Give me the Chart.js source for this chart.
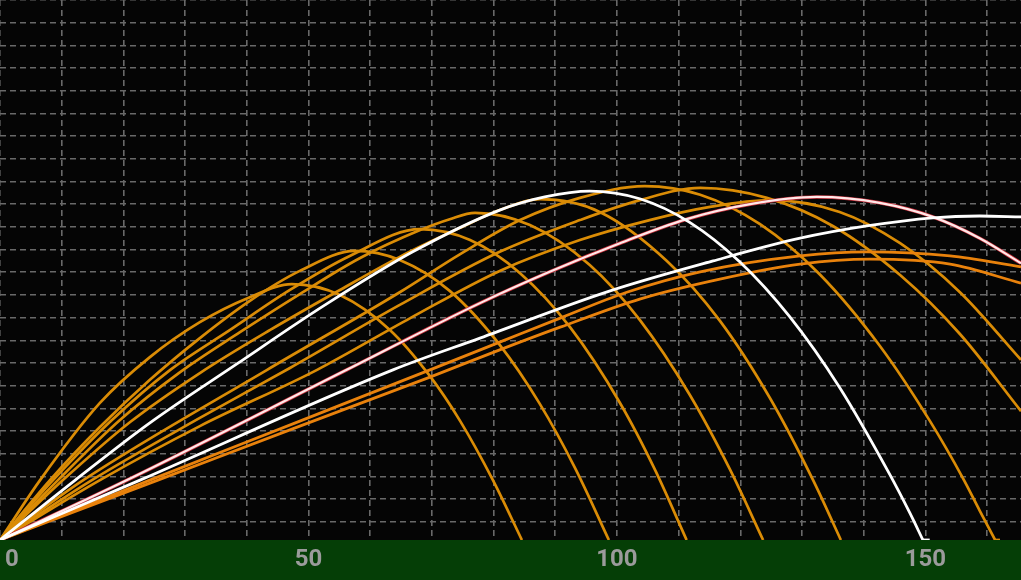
<!DOCTYPE html>
<html>
<head>
<meta charset="utf-8">
<script src="https://cdn.jsdelivr.net/npm/chart.js@4.4.1/dist/chart.umd.min.js"></script>
<style>
  html, body { margin: 0; padding: 0; background: #050505; }
  #wrap { width: 1021px; height: 580px; }
</style>
</head>
<body>
<div id="wrap"><canvas id="trajectoryChart"></canvas></div>
<script>
// Shot trajectories: carry in yards (x), height in feet (y)

const xTickLabels = [0, 50, 100, 150];
const heightGridFt = [4, 9, 14, 19, 24, 29, 34, 39, 44, 49, 54, 59, 64, 69, 74, 79, 84, 89, 94, 99, 104, 109, 114, 119];

const shotAX = [0, 6.5, 16.2, 24.3, 32.4, 40.5, 47.3, 55.1, 63.2, 69.7, 74.6, 79.9, 84.6];
const shotAY = [0, 13.2, 30.2, 40.3, 48.0, 53.5, 56.4, 54.0, 46.3, 36.1, 26.2, 13.2, 0];

const shotBX = [0, 8.1, 16.2, 24.3, 32.4, 40.5, 48.6, 57.5, 64.8, 72.9, 81.0, 87.5, 93.2, 98.7];
const shotBY = [0, 13.2, 24.9, 35.3, 44.5, 52.7, 59.3, 63.7, 61.7, 54.9, 43.0, 30.0, 15.9, 0];

const shotCX = [0, 8.6, 17.8, 27.6, 37.3, 47.0, 56.7, 68.1, 76.2, 84.3, 92.4, 100.5, 106.2, 111.3];
const shotCY = [0, 13.2, 26.0, 37.5, 46.3, 55.1, 62.6, 68.5, 66.1, 58.8, 46.9, 30.2, 15.4, 0];

const shotDX = [0, 9.4, 19.4, 29.2, 38.9, 48.6, 58.3, 68.1, 72.9, 77.0, 85.9, 95.6, 103.7, 111.8, 118.3, 123.7];
const shotDY = [0, 13.2, 26.4, 37.0, 45.8, 54.2, 62.1, 68.3, 70.7, 72.1, 69.4, 60.6, 48.5, 32.0, 15.6, 0];

const shotEX = [0, 10.2, 21.1, 32.4, 43.8, 55.1, 64.8, 74.6, 81.0, 87.5, 97.2, 108.1, 116.7, 124.8, 131.8, 136.3];
const shotEY = [0, 13.2, 26.0, 36.8, 46.3, 55.1, 62.4, 68.8, 72.7, 75.1, 72.3, 61.5, 48.3, 31.3, 13.2, 0];

const shotFX = [0, 12.2, 24.3, 38.4, 52.7, 66.9, 81.0, 88.3, 95.6, 103.7, 111.8, 119.9, 128.0, 136.1, 144.2, 147.5, 149.6];
const shotFY = [0, 13.2, 25.8, 38.8, 51.8, 63.5, 72.7, 75.6, 76.9, 75.2, 70.0, 61.3, 49.2, 33.6, 14.5, 5.9, 0];
const rollFX = [149.6, 150.7];
const rollFY = [0, 0];

const shotGX = [0, 13.5, 43.3, 64.8, 74.6, 84.3, 94.0, 104.5, 113.5, 123.2, 132.9, 142.6, 150.7, 156.1, 158.8, 161.3];
const shotGY = [0, 13.2, 37.5, 54.6, 63.0, 70.5, 75.4, 78.0, 76.1, 69.6, 58.5, 42.8, 26.3, 13.6, 6.5, 0];
const rollGX = [161.3, 162.1];
const rollGY = [0, 0];

const shotHX = [0, 14.9, 32.4, 47.0, 64.8, 81.0, 94.0, 103.7, 113.5, 124.3, 135.0, 145.9, 155.6, 165.5];
const shotHY = [0, 13.2, 26.9, 37.9, 51.8, 63.5, 70.5, 74.9, 77.6, 75.4, 69.2, 58.4, 45.4, 28.4];

const shotIX = [0, 16.2, 32.4, 51.4, 66.5, 81.0, 94.0, 105.3, 115.1, 124.8, 136.1, 145.9, 155.6, 165.5];
const shotIY = [0, 13.2, 25.1, 37.5, 48.9, 59.3, 66.1, 70.5, 73.4, 74.9, 72.3, 65.4, 54.6, 39.7];

const shotPX = [0, 20.6, 56.2, 77.8, 89.1, 100.5, 111.3, 121.6, 132.4, 142.6, 151.2, 158.8, 165.5];
const shotPY = [0, 13.2, 37.5, 52.2, 59.1, 65.4, 70.7, 74.0, 75.6, 74.3, 71.2, 66.5, 61.0];

const shotWX = [0, 22.7, 63.7, 77.8, 98.9, 115.6, 129.7, 140.5, 151.2, 158.8, 165.5];
const shotWY = [0, 13.2, 37.5, 44.5, 54.9, 61.5, 66.5, 69.2, 71.0, 71.4, 71.2];

const shotO1X = [0, 24.3, 48.6, 69.7, 81.0, 90.8, 101.6, 113.5, 129.7, 140.5, 154.0, 165.5];
const shotO1Y = [0, 13.2, 26.2, 37.5, 43.6, 48.9, 54.6, 59.1, 62.6, 63.5, 62.6, 60.2];

const shotO2X = [0, 25.6, 48.6, 69.7, 81.0, 90.8, 103.7, 116.7, 129.7, 141.0, 154.0, 165.5];
const shotO2Y = [0, 13.2, 25.1, 35.9, 41.9, 46.9, 53.1, 57.5, 60.8, 61.9, 60.8, 56.6];

const orange = '#da8c06';
const brightOrange = '#e9820c';

function points(xs, ys) {
  return xs.map((x, i) => ({ x: x, y: ys[i] }));
}

function shot(xs, ys, color, width) {
  return {
    data: points(xs, ys),
    borderColor: color,
    borderWidth: width,
    pointRadius: 0,
    fill: false,
    cubicInterpolationMode: 'monotone'
  };
}

// first dataset is drawn on top
const datasets = [
  shot(shotFX, shotFY, '#ffffff', 2.8),
  shot(rollFX, rollFY, '#ffffff', 2.8),
  shot(shotWX, shotWY, '#ffffff', 2.8),
  shot(shotPX, shotPY, '#ffe8e8', 2.2),
  shot(shotPX, shotPY, '#c8303c', 3.6),
  shot(shotO1X, shotO1Y, brightOrange, 2.8),
  shot(shotO2X, shotO2Y, brightOrange, 2.8),
  shot(shotAX, shotAY, orange, 2.7),
  shot(shotBX, shotBY, orange, 2.7),
  shot(shotCX, shotCY, orange, 2.7),
  shot(shotDX, shotDY, orange, 2.7),
  shot(shotEX, shotEY, orange, 2.7),
  shot(shotGX, shotGY, orange, 2.7),
  shot(rollGX, rollGY, orange, 2.7),
  shot(shotHX, shotHY, orange, 2.7),
  shot(shotIX, shotIY, orange, 2.7)
];

const groundStrip = {
  id: 'groundStrip',
  beforeDraw(chart) {
    const ctx = chart.ctx;
    const area = chart.chartArea;
    ctx.save();
    ctx.fillStyle = '#050505';
    ctx.fillRect(0, 0, chart.width, chart.height);
    ctx.fillStyle = '#053e06';
    ctx.fillRect(0, area.bottom, chart.width, chart.height - area.bottom);
    ctx.restore();
  }
};

const gridColor = '#696969';

new Chart(document.getElementById('trajectoryChart'), {
  type: 'line',
  data: { datasets: datasets },
  plugins: [groundStrip],
  options: {
    responsive: true,
    maintainAspectRatio: false,
    animation: false,
    layout: { padding: 0 },
    plugins: { legend: { display: false }, tooltip: { enabled: false } },
    scales: {
      x: {
        type: 'linear',
        min: 0,
        max: 165.5,
        afterFit(s) { s.height = 40; },
        border: { display: false, dash: [6, 4] },
        grid: { color: gridColor, lineWidth: 1.6, drawTicks: false },
        ticks: {
          stepSize: 10,
          includeBounds: false,
          autoSkip: false,
          maxRotation: 0,
          align: 'inner',
          padding: 0,
          color: '#9b9b9b',
          font: { family: 'Roboto', size: 24, weight: 'bold', lineHeight: 1.6667 },
          callback: function (v) {
            if (xTickLabels.indexOf(v) < 0) return '';
            return v === 0 ? '\u20090' : String(v);
          }
        }
      },
      y: {
        type: 'linear',
        min: 0,
        max: 119,
        afterFit(s) { s.width = 0; },
        afterBuildTicks(s) { s.ticks = heightGridFt.map(v => ({ value: v })); },
        border: { display: false, dash: [6, 4] },
        grid: { color: gridColor, lineWidth: 1.6, drawTicks: false },
        ticks: { display: false }
      }
    }
  }
});
</script>
</body>
</html>
